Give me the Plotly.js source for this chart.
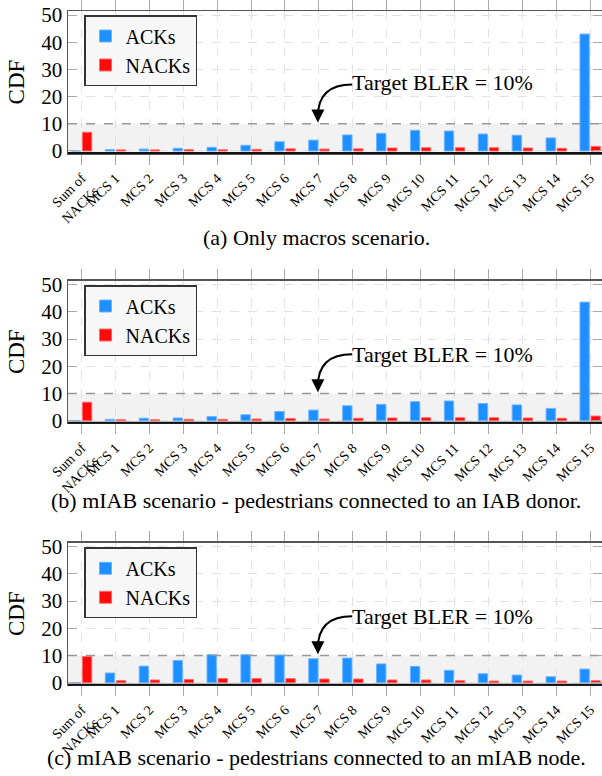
<!DOCTYPE html>
<html>
<head>
<meta charset="utf-8">
<script src="https://cdn.plot.ly/plotly-3.0.1.min.js"></script>
<style>html,body{margin:0;padding:0;background:#fff;}#chart{width:602px;height:776px;}</style>
</head>
<body>
<div id="chart"></div>
<script>
// ---- data ----
const categories = ["Sum of<br>NACKs","MCS 1","MCS 2","MCS 3","MCS 4","MCS 5","MCS 6","MCS 7","MCS 8","MCS 9","MCS 10","MCS 11","MCS 12","MCS 13","MCS 14","MCS 15"];
const acksA  = [0, 0.5, 0.7, 1.0, 1.35, 2.1, 3.4, 4.0, 5.9, 6.5, 7.6, 7.35, 6.25, 5.8, 4.8, 43.0];
const nacksA = [6.9, 0.4, 0.4, 0.5, 0.45, 0.6, 0.8, 0.7, 0.8, 1.1, 1.2, 1.2, 1.2, 1.1, 1.0, 1.7];
const acksB  = [0, 0.5, 0.9, 1.0, 1.5, 2.2, 3.4, 3.9, 5.5, 6.0, 7.0, 7.25, 6.3, 5.8, 4.5, 43.6];
const nacksB = [6.8, 0.35, 0.35, 0.5, 0.5, 0.6, 0.8, 0.6, 0.9, 1.0, 1.1, 1.1, 1.1, 1.0, 0.9, 1.7];
const acksC  = [0, 3.55, 6.1, 8.2, 10.3, 10.3, 10.2, 8.8, 9.05, 6.9, 6.0, 4.55, 3.3, 2.8, 2.2, 5.0];
const nacksC = [9.6, 0.75, 1.0, 1.2, 1.5, 1.5, 1.5, 1.35, 1.35, 1.0, 1.0, 0.75, 0.6, 0.6, 0.6, 0.75];
const yTicks = [0, 10, 20, 30, 40, 50];
const targetBLER = 10;
const captions = ["(a) Only macros scenario.",
                  "(b) mIAB scenario - pedestrians connected to an IAB donor.",
                  "(c) mIAB scenario - pedestrians connected to an mIAB node."];

// ---- build ----
const FONT = "Liberation Serif";
const W = 602, H = 776, ML = 68;
const PW = W - ML;
const xIdx = categories.map((_, i) => i);
const BLUE = "#1E8FFF", BLUE_EDGE = "#6DB5FF";
const RED = "#FF0A0A", RED_EDGE = "#FF6A6A";

const panels = [
  {ack: acksA, nack: nacksA, top: 11, bottom: 153, suffix: "",  leg: "legend"},
  {ack: acksB, nack: nacksB, top: 280.7, bottom: 422.7, suffix: "2", leg: "legend2"},
  {ack: acksC, nack: nacksC, top: 542.7, bottom: 684.7, suffix: "3", leg: "legend3"}
];
const captionY = [237, 500, 757];
const legendTop = [15, 285, 547.3];

const traces = [];
const layout = {
  width: W, height: H,
  margin: {l: ML, r: 0, t: 0, b: 0},
  paper_bgcolor: "#fff", plot_bgcolor: "#fff",
  font: {family: FONT, color: "#000"},
  barmode: "overlay",
  showlegend: true,
  shapes: [], annotations: []
};

panels.forEach((p, k) => {
  const xa = "x" + p.suffix, ya = "y" + p.suffix;
  const xKey = "xaxis" + p.suffix, yKey = "yaxis" + p.suffix;
  traces.push({
    type: "bar", name: "ACKs", x: xIdx, y: p.ack, xaxis: xa, yaxis: ya,
    width: 0.275, offset: -0.3, legend: p.leg, legendgroup: "a" + k,
    marker: {color: BLUE, line: {color: BLUE_EDGE, width: 1}}
  });
  traces.push({
    type: "bar", name: "NACKs", x: xIdx, y: p.nack, xaxis: xa, yaxis: ya,
    width: 0.275, offset: 0.025, legend: p.leg, legendgroup: "n" + k,
    marker: {color: RED, line: {color: RED_EDGE, width: 1}}
  });
  const dom = [1 - p.bottom / H, 1 - p.top / H];
  layout[xKey] = {
    domain: [0, 1], anchor: ya, range: [-0.4, 15.35], type: "linear",
    tickvals: xIdx, ticktext: categories, tickangle: -45,
    tickfont: {family: FONT, size: 14, color: "#000"},
    ticks: "outside", ticklen: 10, tickcolor: "#aaa", tickwidth: 1,
    showline: true, linecolor: "#555", linewidth: 1.5, mirror: "allticks",
    showgrid: true, gridcolor: "#e2e2e2", griddash: "dash", gridwidth: 1,
    zeroline: false, fixedrange: true
  };
  layout[yKey] = {
    domain: dom, anchor: xa, range: [-0.74, 51.47],
    tickvals: yTicks, ticktext: yTicks.map(String),
    tickfont: {family: FONT, size: 21, color: "#000"},
    ticks: "inside", ticklen: 9, tickcolor: "#aaa", tickwidth: 1,
    showline: true, linecolor: "#555", linewidth: 1.5, mirror: "allticks",
    showgrid: true, gridcolor: "#e2e2e2", griddash: "dash", gridwidth: 1,
    zeroline: false, fixedrange: true,
    title: {text: "CDF", font: {family: FONT, size: 23, color: "#000"}, standoff: 10}
  };
  layout[p.leg] = {
    x: (84 - ML) / PW, y: 1 - legendTop[k] / H, xref: "paper", yref: "paper",
    xanchor: "left", yanchor: "top",
    bgcolor: "#f7f7f7", bordercolor: "#333", borderwidth: 1.5,
    font: {family: FONT, size: 20, color: "#000"}, tracegroupgap: 7,
    traceorder: "normal"
  };
  // shaded region below target BLER
  layout.shapes.push({
    type: "rect", xref: xa + " domain", yref: ya, x0: 0, x1: 1, y0: -0.74, y1: targetBLER,
    fillcolor: "#f2f2f2", line: {width: 0}, layer: "below"
  });
  layout.shapes.push({
    type: "line", xref: xa + " domain", yref: ya, x0: 0, x1: 1, y0: targetBLER, y1: targetBLER,
    line: {color: "#999", width: 1.5, dash: "dash"}, layer: "above"
  });
  // darker bottom axis line
  layout.shapes.push({
    type: "line", xref: xa + " domain", yref: ya + " domain", x0: 0, x1: 1, y0: 0, y1: 0,
    line: {color: "#111", width: 2}, layer: "above"
  });
  // curved arrow
  layout.shapes.push({
    type: "path", xref: xa, yref: ya,
    path: "M 7.98,24.4 Q 6.97,24.4 6.97,12.6",
    line: {color: "#000", width: 2}
  });
  layout.annotations.push({
    xref: xa, yref: ya, axref: xa, ayref: ya,
    x: 6.97, y: 10.5, ax: 6.97, ay: 13.2, text: "",
    showarrow: true, arrowhead: 2, arrowsize: 1.3, arrowwidth: 2, arrowcolor: "#000"
  });
  layout.annotations.push({
    xref: xa, yref: ya, x: 10.66, y: k === 0 ? 25 : 24.4,
    text: "Target BLER = " + targetBLER + "%", showarrow: false,
    font: {family: FONT, size: 22, color: "#000"}
  });
  layout.annotations.push({
    xref: "paper", yref: "paper", x: (316 - ML) / PW, y: 1 - captionY[k] / H,
    xanchor: "center", yanchor: "middle", text: captions[k], showarrow: false,
    font: {family: FONT, size: 22, color: "#000"}
  });
});

Plotly.newPlot("chart", traces, layout, {displayModeBar: false, staticPlot: true});
</script>
</body>
</html>
